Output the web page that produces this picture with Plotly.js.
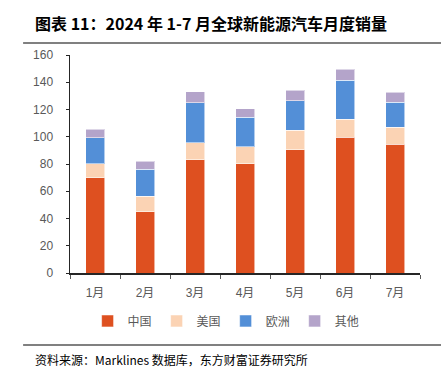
<!DOCTYPE html>
<html><head><meta charset="utf-8">
<script src="https://cdn.plot.ly/plotly-3.0.1.min.js"></script>
<style>html,body{margin:0;padding:0;background:#fff}#chart{width:441px;height:376px}</style>
</head><body><div id="chart"></div>
<script>
const months = ["1月","2月","3月","4月","5月","6月","7月"];
const china  = [70, 45, 83, 80.2, 90.5, 99.6, 94.4];
const usa    = [10.2, 11.5, 12.6, 12.5, 14.2, 13.1, 12.7];
const europe = [19.1, 19.5, 29.3, 21.5, 21.9, 28.8, 18.1];
const other  = [6.1, 6.1, 8.3, 6.3, 7.4, 8.1, 7.3];
const names  = ["中国","美国","欧洲","其他"];
const colors = ["#DE5020","#FBD3B4","#538FD7","#B4A4CA"];
const series = [china, usa, europe, other];

const traces = series.map((v,i)=>({
  type:'bar', x:months, y:v, name:names[i],
  marker:{color:colors[i], line:{color:'rgba(255,255,255,0.55)', width:1}},
  hoverinfo:'none'
}));

const font = '"Liberation Sans", "Noto Sans CJK SC", sans-serif';
const layout = {
  width:441, height:376,
  margin:{l:70, r:21, t:55, b:103},
  paper_bgcolor:'#fff', plot_bgcolor:'#fff',
  barmode:'stack', bargap:0.62,
  showlegend:true,
  title:{text:'<b>图表 11：2024 年 1-7 月全球新能源汽车月度销量</b>', x:35/441, xanchor:'left', y:1-24/376, yanchor:'middle',
         font:{family:'"Noto Sans CJK SC", sans-serif', size:16, color:'#000'}},
  xaxis:{type:'category', tickson:'boundaries', ticks:'outside', ticklen:4, tickcolor:'#595959',
         showline:true, linecolor:'#262626', linewidth:1.5, showgrid:false, zeroline:false,
         ticklabelstandoff:8,
         tickfont:{family:font, size:12, color:'#595959'}},
  yaxis:{range:[0,160], dtick:20, ticks:'outside', ticklen:3, tickcolor:'#262626',
         showline:true, linecolor:'#262626', linewidth:1.5, showgrid:false, zeroline:false,
         ticklabelstandoff:10,
         tickfont:{family:font, size:12, color:'#595959'}},
  legend:{orientation:'h', x:0.446, xanchor:'center', y:-0.22, yanchor:'middle',
          font:{family:font, size:12, color:'#595959'}, itemwidth:30, traceorder:'normal'},
  shapes:[
    {type:'line', xref:'paper', yref:'paper', x0:-0.134, x1:1.07, y0:(273-43)/218, y1:(273-43)/218, line:{color:'#808080', width:2}},
    {type:'line', xref:'paper', yref:'paper', x0:-0.134, x1:1.07, y0:(273-345)/218, y1:(273-345)/218, line:{color:'#808080', width:2}}
  ],
  annotations:[
    {text:'资料来源：Marklines 数据库，东方财富证券研究所', xref:'paper', yref:'paper', x:(33-70)/350, y:(273-359)/218,
     xanchor:'left', yanchor:'middle', showarrow:false, font:{family:'"Noto Sans CJK SC", sans-serif', size:12, color:'#000'}}
  ]
};
Plotly.newPlot('chart', traces, layout, {staticPlot:true, displayModeBar:false});
</script></body></html>
